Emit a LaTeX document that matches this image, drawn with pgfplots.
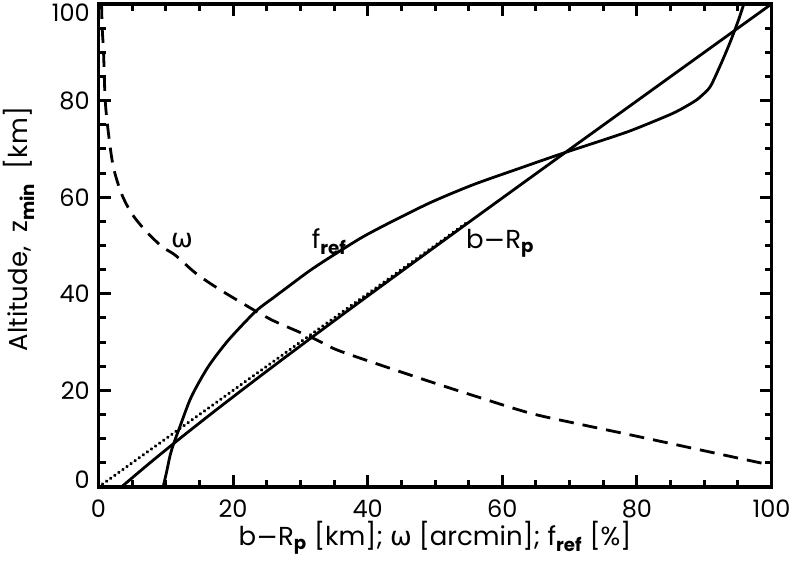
\documentclass[border=0pt]{standalone}
\usepackage{fontspec}
\setmainfont{Poppins}
\newfontfamily\dvs{DejaVu Sans}
\usepackage{pgfplots}
\pgfplotsset{compat=1.18}

\begin{document}
\fontsize{13}{15}\selectfont
\begin{tikzpicture}
\begin{axis}[
  name=ax,
  scale only axis,
  width=336.5pt, height=241.5pt,
  xmin=0, xmax=100, ymin=0, ymax=100,
  xtick={0,20,...,100}, ytick={0,20,...,100},
  minor tick num=3,
  tick align=inside,
  major tick length=6pt, minor tick length=3.5pt,
  axis line style={line width=1.6pt},
  every tick/.style={black, line width=1.5pt},
  /pgf/number format/assume math mode=true,
  tick label style={font=\fontsize{12}{14}\selectfont, inner sep=1pt},
  xticklabel style={yshift=-5pt},
  yticklabel style={xshift=-3.2pt},
  yticklabels={\raisebox{3.5pt}[\height][\depth]{0},20,40,60,80,\raisebox{-4.5pt}[\height][\depth]{100}},
  xlabel={b{\dvs −}R\textsubscript{\textbf{p}} [km]; {\dvs ω} [arcmin]; f\textsubscript{\textbf{ref}} [\%]},
  xlabel style={at={(axis description cs:0.5,-0.121)}, anchor=base, inner sep=0pt},
  ylabel={Altitude,\ \ z\textsubscript{\textbf{min}}\ \ [km]},
  ylabel style={at={(axis description cs:-0.105,0.534)}, anchor=base, inner sep=0pt},
]
% omega (dashed)
\addplot[black, line width=1.4pt, smooth, tension=0.5, dash pattern=on 7.5pt off 4.5pt] coordinates {
 (0.45,100) (0.55,95) (0.75,90) (1.0,80) (1.5,73) (2.2,66.3) (3.4,60.8)
 (4.9,56.7) (6.9,53.2) (9.4,49.8) (11.4,48.0) (14.5,44.2) (18.1,40.8)
 (23.5,36.3) (25.7,34.6) (31.9,30.8) (35.4,28.4) (42,25.2) (49.3,21.8)
 (56,18.8) (64.1,15.3) (71.5,13.0) (79,10.8) (89,7.8) (100,4.5)
};
% z = b-Rp without refraction (dotted)
\addplot[black, line width=1.8pt, line cap=round, dash pattern=on 0.01pt off 2.5pt] coordinates {
 (0.6,0.6) (55,55)
};
% b-Rp
\addplot[black, line width=1.4pt, smooth, tension=0.5] coordinates {
 (3.4,0) (7.65,5) (12.06,10) (16.6,15) (21.25,20) (25.97,25) (30.76,30)
 (35.59,35) (40.46,40) (50.28,50) (60.17,60) (70.1,70) (80.06,80)
 (90.02,90) (100,100)
};
% f_ref
\addplot[black, line width=1.4pt, smooth, tension=0.45] coordinates {
 (9.6,0) (10.1,3) (10.6,6.3) (11.1,8.7) (12.1,12.5) (13.8,18.7) (16.3,24.9)
 (19.3,30.4) (23.3,36.3) (26.0,39.2) (28.3,41.6) (31.5,44.9) (34.9,48.0)
 (39.3,51.8) (43.8,55.1) (49.5,59.0) (55.7,62.6) (62.6,66.0) (68.8,69.0)
 (76.0,72.3) (79.5,74.0) (85.4,77.4) (88.5,79.8) (89.6,81.0) (90.9,82.9)
 (92.3,87.0) (93.8,91.9) (95.1,96.7) (96.0,100.5)
};
\node at (axis cs:12.4,51.1) {\dvs ω};
\node at (axis cs:34.3,50.7) {f\textsubscript{\textbf{ref}}};
\node at (axis cs:59.7,50.5) {b{\dvs −}R\textsubscript{\textbf{p}}};
\end{axis}
\pgfresetboundingbox
\path[use as bounding box] ([xshift=-49.25pt, yshift=-39pt]ax.south west)
  rectangle ([xshift=12.25pt, yshift=2pt]ax.north east);
\end{tikzpicture}
\end{document}
